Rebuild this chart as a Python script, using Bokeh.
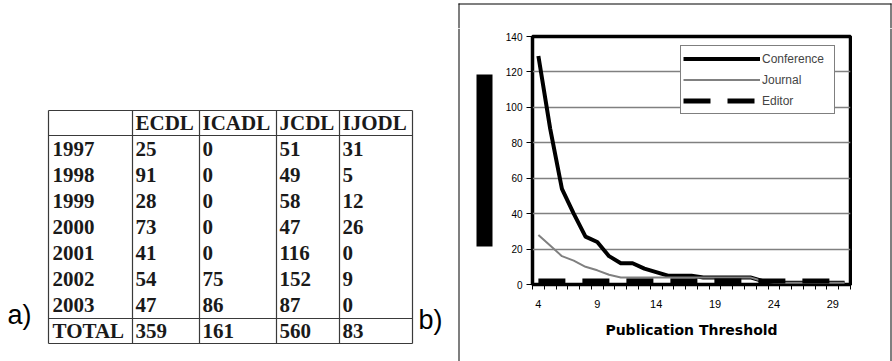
from bokeh.plotting import figure
from bokeh.layouts import row, column
from bokeh.models import Range1d, FixedTicker, Legend
from bokeh.core.properties import value
from bokeh.embed import file_html
from bokeh.resources import INLINE

# ---------------- (a) papers per venue and year ----------------
years = ["1997", "1998", "1999", "2000", "2001", "2002", "2003"]
venues = ["ECDL", "ICADL", "JCDL", "IJODL"]
ecdl = [25, 91, 28, 73, 41, 54, 47]
icadl = [0, 0, 0, 0, 0, 75, 86]
jcdl = [51, 49, 58, 47, 116, 152, 87]
ijodl = [31, 5, 12, 26, 0, 9, 0]

# ---------------- (b) authors vs. publication threshold ----------------
threshold = [4, 5, 6, 7, 8, 9, 10, 11, 12, 13, 14, 15, 16, 17, 18, 19, 20,
             21, 22, 23, 24, 25, 26, 27, 28, 29, 30]
conference = [129, 88, 54, 40, 27, 24, 16, 12, 12, 9, 7, 5, 5, 5, 4, 4, 4,
              4, 4, 2, 1.5, 1, 1, 1, 1, 1, 1]
journal = [28, 22, 16, 13.5, 10, 8, 5.5, 4, 4, 4, 4, 4, 4, 4, 4, 4, 4,
           4, 4, 2, 1, 1, 1, 1, 1, 1, 1]
editor = [2, 2, 2, 2, 2, 2, 2, 2, 2, 2, 2, 2, 2, 2, 2, 2, 2,
          2, 2, 2, 2, 2, 2, 2, 2, 2, 2]
x_tick_labels = [4, 9, 14, 19, 24, 29]
y_ticks = [0, 20, 40, 60, 80, 100, 120, 140]

SERIF = value("Liberation Serif")
SANS = value("Liberation Sans")
W, H = 892, 361                    # page size
TOP = 28                           # height of the strip above the panels
SPLIT = 495                        # page x where the chart canvas starts
CHART_END = 852                    # page x where the chart canvas ends
PANEL = (458, 890, 3)              # left, right, top edge of the frame around (b)


def canvas(width, height, x0, y0):
    """Bare figure whose data coordinates equal page pixels (y grows downward)."""
    f = figure(width=width, height=height, x_range=Range1d(x0, x0 + width),
               y_range=Range1d(y0 + height, y0), x_axis_type=None, y_axis_type=None,
               output_backend="svg", toolbar_location=None, min_border=0)
    f.outline_line_color = None
    f.frame_align = False
    return f


def vrule(f, x, y0, y1):
    f.quad(left=[x], right=[x + 1], top=[y0], bottom=[y1], fill_color="black", line_color=None)


pl, pr, pt = PANEL

# ---------------- strip above the panels: top edge of the (b) frame ----------------
top = canvas(W, TOP, 0, 0)
top.quad(left=[pl], right=[pr + 1], top=[pt], bottom=[pt + 1], fill_color="black", line_color=None)
vrule(top, pl, pt, TOP)
vrule(top, pr, pt, TOP)

# ---------------- table panel ----------------
tbl = canvas(SPLIT, H - TOP, 0, TOP)

col_edges = [48, 132, 199, 276, 339, 412]
t_top, head_bot, row_h = 110, 135, 26.14
total_top = head_bot + row_h * len(years)
t_bot = total_top + 25

columns = [ecdl, icadl, jcdl, ijodl]
totals = [sum(c) for c in columns]

tx, ty, tt = [], [], []
for j, name in enumerate(venues):
    tx.append(col_edges[j + 1] + 3); ty.append((t_top + head_bot) / 2); tt.append(name)
for i, yr in enumerate(years):
    yc = head_bot + row_h * (i + 0.5)
    tx.append(col_edges[0] + 4); ty.append(yc); tt.append(yr)
    for j, col in enumerate(columns):
        tx.append(col_edges[j + 1] + 3); ty.append(yc); tt.append(str(col[i]))
yc = (total_top + t_bot) / 2
tx.append(col_edges[0] + 4); ty.append(yc); tt.append("TOTAL")
for j, tot in enumerate(totals):
    tx.append(col_edges[j + 1] + 3); ty.append(yc); tt.append(str(tot))

tbl.text(x=tx, y=ty, text=tt, text_font=SERIF, text_font_size="21px",
         text_font_style="bold", text_color="#1a1a1a",
         text_align="left", text_baseline="middle")

hy = [t_top, head_bot, total_top, t_bot]
tbl.segment(x0=[col_edges[0]] * 4, y0=hy, x1=[col_edges[-1]] * 4, y1=hy,
            line_color="#3a3a3a", line_width=1.2)
tbl.segment(x0=col_edges, y0=[t_top] * 6, x1=col_edges, y1=[t_bot] * 6,
            line_color="#3a3a3a", line_width=1.2)

tbl.text(x=[7, 418], y=[314, 319], text=["a)", "b)"], text_font=SANS,
         text_font_size="27px", text_color="black",
         text_align="left", text_baseline="middle")

# left edge of the (b) frame and the blacked-out y-axis caption
vrule(tbl, pl, TOP, H)
tbl.quad(left=[476], right=[492], top=[74], bottom=[246], fill_color="black", line_color=None)

# ---------------- chart panel ----------------
p = figure(width=CHART_END - SPLIT, height=H - TOP, x_range=Range1d(3.5, 30.5),
           y_range=Range1d(0, 140), output_backend="svg", toolbar_location=None,
           min_border_left=532 - SPLIT, min_border_right=CHART_END - 850,
           min_border_top=36 - TOP, min_border_bottom=H - 284)
p.frame_align = False
p.outline_line_color = "black"
p.outline_line_width = 3.5
p.xgrid.visible = False
p.ygrid.ticker = FixedTicker(ticks=y_ticks)
p.ygrid.grid_line_color = "#808080"
p.ygrid.grid_line_width = 1.5

r_conf = p.line(threshold, conference, line_color="black", line_width=4, line_join="round")
r_jour = p.line(threshold, journal, line_color="#808080", line_width=2)
r_edit = p.line(threshold, editor, line_color="black", line_width=5, line_dash="27 17")

boundaries = [t - 0.5 for t in threshold] + [threshold[-1] + 0.5]
p.xaxis.ticker = FixedTicker(ticks=x_tick_labels, minor_ticks=boundaries)
p.xaxis.axis_line_color = None
p.xaxis.major_tick_out = 0
p.xaxis.major_tick_in = 0
p.xaxis.minor_tick_out = 5
p.xaxis.minor_tick_in = 0
p.xaxis.minor_tick_line_color = "black"
p.xaxis.major_label_text_font = "Liberation Sans"
p.xaxis.major_label_text_font_size = "11px"
p.xaxis.major_label_text_color = "black"
p.xaxis.major_label_standoff = 10
p.xaxis.axis_label = "Publication Threshold"
p.xaxis.axis_label_text_font = "DejaVu Sans"
p.xaxis.axis_label_text_font_style = "bold"
p.xaxis.axis_label_text_font_size = "14px"
p.xaxis.axis_label_text_color = "black"
p.xaxis.axis_label_standoff = 11

p.yaxis.ticker = FixedTicker(ticks=y_ticks, minor_ticks=[])
p.yaxis.axis_line_color = None
p.yaxis.major_tick_out = 6
p.yaxis.major_tick_in = 0
p.yaxis.minor_tick_out = 0
p.yaxis.minor_tick_in = 0
p.yaxis.major_tick_line_color = "black"
p.yaxis.major_label_text_font = "Liberation Sans"
p.yaxis.major_label_text_font_size = "10px"
p.yaxis.major_label_text_color = "black"
p.yaxis.major_label_standoff = 4

legend = Legend(items=[("Conference", [r_conf]), ("Journal", [r_jour]), ("Editor", [r_edit])],
                location=(148, 170), margin=0, padding=2, spacing=0,
                glyph_width=77, glyph_height=21, label_height=21, label_width=70,
                label_standoff=2,
                label_text_font="Liberation Sans", label_text_font_size="12px",
                border_line_color="black", border_line_width=1,
                background_fill_color="white", background_fill_alpha=1)
p.add_layout(legend)

# ---------------- strip right of the chart: right edge of the (b) frame ----------------
right = canvas(W - CHART_END, H - TOP, CHART_END, TOP)
vrule(right, pr, TOP, H)

layout = column(top, row(tbl, p, right, spacing=0), spacing=0)
open("out.html", "w").write(file_html(layout, INLINE))
